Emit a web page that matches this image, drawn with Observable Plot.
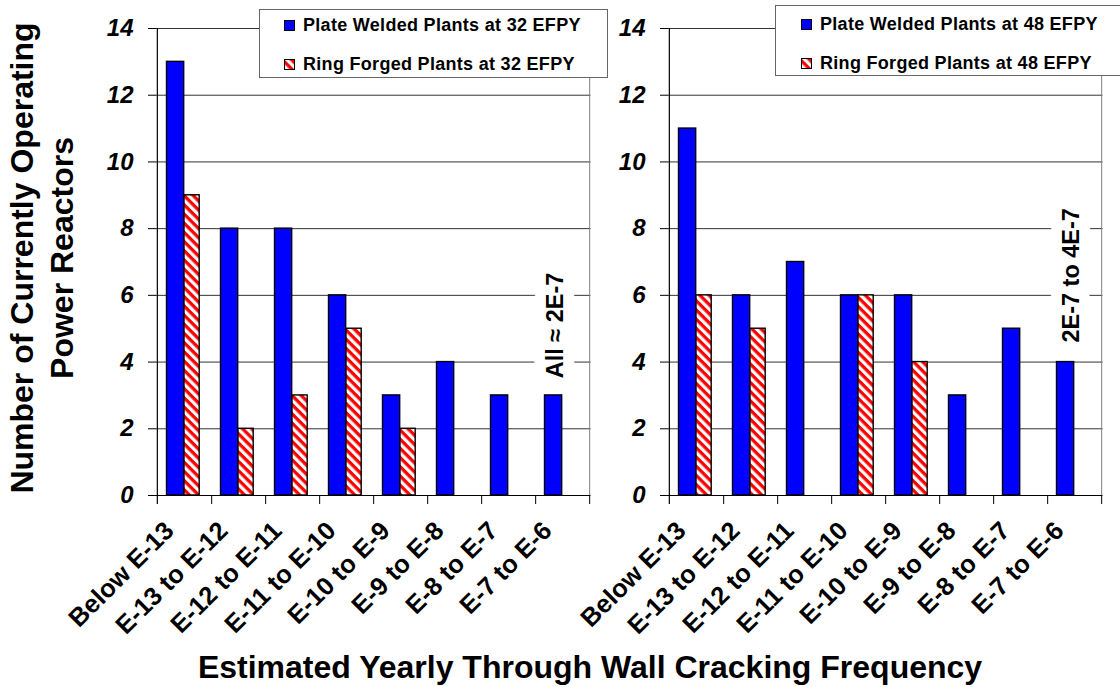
<!DOCTYPE html>
<html><head><meta charset="utf-8">
<script src="https://cdn.jsdelivr.net/npm/d3@7"></script>
<script src="https://cdn.jsdelivr.net/npm/@observablehq/plot@0.6"></script>
<style>
body{margin:0;background:#fff;}
#wrap{position:relative;width:1120px;height:687px;overflow:hidden;font-family:"Liberation Sans",Arial,sans-serif;color:#000;}
.panel{position:absolute;top:0;}
.legend{position:absolute;background:#fff;border:1px solid #666;box-sizing:border-box;font-weight:bold;font-size:18px;}
.legend .row{position:absolute;display:flex;align-items:center;white-space:nowrap;height:20px;}
.legend .sw{width:11px;height:11px;margin-right:8px;display:block;}
#ytitle{position:absolute;width:520px;height:80px;left:-218px;top:218px;transform:rotate(-90deg);text-align:center;font-weight:bold;font-size:32px;line-height:40px;white-space:nowrap;}
#xtitle{position:absolute;left:0;width:1180px;top:652px;text-align:center;font-weight:bold;font-size:32px;line-height:31px;white-space:nowrap;}
</style></head>
<body>
<div id="wrap">
<svg width="0" height="0" style="position:absolute"><defs>
<pattern id="hatch" patternUnits="userSpaceOnUse" width="6.5" height="6.5" patternTransform="rotate(45)">
<rect width="6.5" height="6.5" fill="#ffffff"/><rect width="6.5" height="3.3" fill="#ff0000"/></pattern></defs></svg>
</div>
<script>
const categories = ["Below E-13","E-13 to E-12","E-12 to E-11","E-11 to E-10","E-10 to E-9","E-9 to E-8","E-8 to E-7","E-7 to E-6"];
const plate32 = [13, 8, 8, 6, 3, 4, 3, 3];
const ring32  = [9, 2, 3, 5, 2, null, null, null];
const plate48 = [11, 6, 7, 6, 6, 3, 5, 4];
const ring48  = [6, 5, null, 6, 4, null, null, null];
const yTicks = [0, 2, 4, 6, 8, 10, 12, 14];
const legend32 = ["Plate Welded Plants at 32 EFPY", "Ring Forged Plants at 32 EFPY"];
const legend48 = ["Plate Welded Plants at 48 EFPY", "Ring Forged Plants at 48 EFPY"];
const note32 = "All \u2248 2E-7", note32Y = 5.1;
const note48 = "2E-7 to 4E-7", note48Y = 6.6;
const yTitle = ["Number of Currently Operating", "Power Reactors"];
const xTitle = "Estimated Yearly Through Wall Cracking Frequency";

const wrap = document.getElementById("wrap");
const FONT = '"Liberation Sans", Arial, sans-serif';

function panel(plate, ring, note, noteY, noteDx, left, ml) {
  const frameW = 434.5;
  const bw = frameW / categories.length;
  const data = categories.map((c, i) => ({cat: c, plate: plate[i], ring: ring[i]}));
  const svg = Plot.plot({
    width: ml + frameW + 12, height: 640,
    marginLeft: ml, marginRight: 12, marginTop: 28, marginBottom: 145,
    x: {domain: categories, padding: 0, axis: null},
    y: {domain: [0, 14], axis: null},
    style: {fontFamily: FONT, background: "transparent", overflow: "visible", color: "#000"},
    marks: [
      Plot.gridY(yTicks.filter(t => t > 0), {stroke: "#333", strokeOpacity: 1, strokeWidth: 1}),
      Plot.ruleX([categories[categories.length - 1]], {dx: bw / 2, y1: 0, y2: 14, stroke: "#808080"}),
      Plot.barY(data, {x: "cat", y: "plate", fill: "#0000ff", stroke: "#000", strokeWidth: 1.4, insetLeft: 9.5, insetRight: bw - 27}),
      Plot.barY(data.filter(d => d.ring != null), {x: "cat", y: "ring", fill: "url(#hatch)", stroke: "#000", strokeWidth: 1.4, insetLeft: 27, insetRight: bw - 42.5}),
      Plot.ruleY([0], {stroke: "#000", strokeWidth: 1.2}),
      Plot.ruleX([categories[0]], {dx: -bw / 2, y1: -0.27, y2: 14, stroke: "#000", strokeWidth: 1.2}),
      Plot.ruleX(categories, {dx: bw / 2, y1: -0.27, y2: 0, stroke: "#000"}),
      Plot.axisY({ticks: yTicks, tickSize: 8, tickPadding: 15, fontSize: 24, fontWeight: "bold", fontStyle: "italic", label: null}),
      Plot.text(categories, {x: d => d, frameAnchor: "bottom", text: d => d, rotate: -45, textAnchor: "end", lineAnchor: "middle", dx: -15, dy: 31, fontSize: 25.5, fontWeight: "bold", fill: "#000"}),
      Plot.text([note], {x: () => categories[categories.length - 1], y: () => noteY, text: d => d, rotate: -90, dx: noteDx, fontSize: 23.5, fontWeight: "bold", fill: "#000", stroke: "#fff", strokeWidth: 22, lineAnchor: "middle", textAnchor: "middle"})
    ]
  });
  svg.classList.add("panel");
  svg.style.left = left + "px";
  svg.style.maxWidth = "none";
  wrap.appendChild(svg);
}

panel(plate32, ring32, note32, note32Y, -7, 0, 156);
panel(plate48, ring48, note48, note48Y, -3, 600, 68);

function legend(labels, box, rowYs, swX) {
  const d = document.createElement("div");
  d.className = "legend";
  Object.assign(d.style, {left: box[0] + "px", top: box[1] + "px", width: box[2] + "px", height: box[3] + "px"});
  labels.forEach((lab, i) => {
    const r = document.createElement("div");
    r.className = "row";
    r.style.left = swX + "px";
    r.style.top = (rowYs[i] - 10) + "px";
    const fill = i === 0 ? "#0000ff" : "url(#hatch)";
    r.innerHTML = `<svg class="sw" width="11" height="11"><rect x="0.5" y="0.5" width="10" height="10" fill="${fill}" stroke="#000" stroke-width="1"/></svg><span style="letter-spacing:0.3px">${lab}</span>`;
    d.appendChild(r);
  });
  wrap.appendChild(d);
}
legend(legend32, [259, 9, 349, 69], [15, 54], 24);
legend(legend48, [775, 5, 360, 71], [18, 57], 25);

const yt = document.createElement("div");
yt.id = "ytitle";
yt.innerHTML = yTitle.join("<br>");
wrap.appendChild(yt);
const xt = document.createElement("div");
xt.id = "xtitle";
xt.textContent = xTitle;
wrap.appendChild(xt);
</script>
</body></html>
